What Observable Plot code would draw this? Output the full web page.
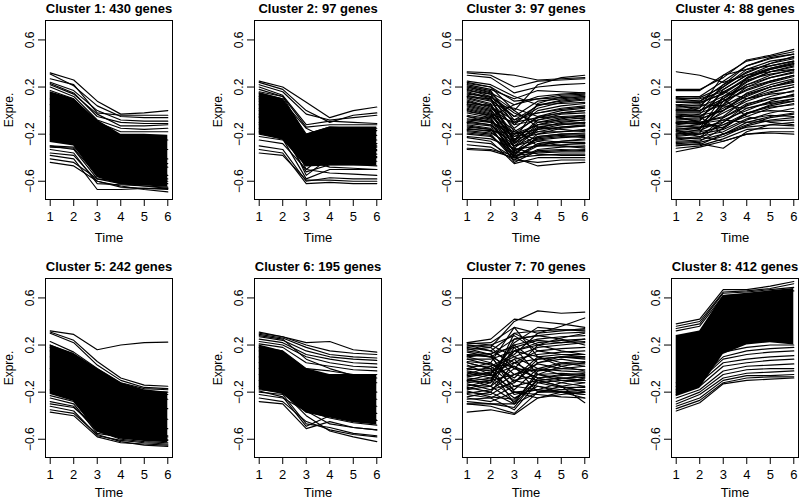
<!DOCTYPE html>
<html>
<head>
<meta charset="utf-8">
<script src="https://cdn.jsdelivr.net/npm/d3@7"></script>
<script src="https://cdn.jsdelivr.net/npm/@observablehq/plot@0.6"></script>
<style>
  body { margin: 0; background: #fff; }
  #chart { position: relative; width: 800px; height: 500px; background: #fff; overflow: hidden; }
  .panel { position: absolute; width: 200px; height: 250px; }
  .panel svg { max-width: none !important; }
</style>
</head>
<body>
<div id="chart"></div>
<script>
const titles = ["Cluster 1: 430 genes", "Cluster 2: 97 genes", "Cluster 3: 97 genes", "Cluster 4: 88 genes",
                "Cluster 5: 242 genes", "Cluster 6: 195 genes", "Cluster 7: 70 genes", "Cluster 8: 412 genes"];
const times = [1, 2, 3, 4, 5, 6];
const yTicks = [-0.6, -0.2, 0.2, 0.6];

// Cluster 1
const c1Lines = [
  [0.32, 0.26, 0.08, -0.03, -0.02, 0.0],
  [0.31, 0.21, 0.04, -0.05, -0.06, -0.06],
  [0.27, 0.22, -0.02, -0.04, -0.04, -0.04],
  [0.24, 0.17, 0.0, -0.08, -0.09, -0.09],
  [0.23, 0.15, -0.05, -0.1, -0.11, -0.11],
  [0.22, 0.14, -0.03, -0.13, -0.13, -0.12],
  [0.2, 0.12, -0.08, -0.15, -0.16, -0.15],
  [0.17, 0.1, -0.1, -0.18, -0.18, -0.18],
  [-0.3, -0.33, -0.58, -0.6, -0.61, -0.62],
  [-0.31, -0.32, -0.55, -0.58, -0.6, -0.6],
  [-0.33, -0.36, -0.62, -0.63, -0.64, -0.65],
  [-0.36, -0.38, -0.6, -0.64, -0.67, -0.69],
  [-0.38, -0.41, -0.67, -0.67, -0.66, -0.66],
  [-0.41, -0.44, -0.58, -0.62, -0.64, -0.66],
  [-0.44, -0.47, -0.6, -0.65, -0.66, -0.67],
  [-0.3, -0.31, -0.5, -0.55, -0.57, -0.58],
  [0.1, 0.05, -0.2, -0.3, -0.32, -0.33],
  [0.0, -0.05, -0.3, -0.38, -0.4, -0.41],
  [-0.1, -0.15, -0.4, -0.45, -0.47, -0.48],
  [-0.2, -0.24, -0.48, -0.52, -0.53, -0.55],
  [0.05, 0.0, -0.15, -0.22, -0.24, -0.25],
  [-0.05, -0.1, -0.35, -0.42, -0.44, -0.45]
];
const c1CoreHi = [0.16, 0.1, -0.08, -0.2, -0.2, -0.21];
const c1CoreLo = [-0.27, -0.3, -0.57, -0.63, -0.64, -0.65];

// Cluster 2
const c2Lines = [
  [0.25, 0.2, 0.07, -0.06, 0.0, 0.03],
  [0.24, 0.18, 0.0, -0.1, -0.04, -0.02],
  [0.22, 0.16, -0.03, -0.08, -0.06, -0.04],
  [0.2, 0.13, -0.12, -0.09, -0.1, -0.11],
  [0.18, 0.12, -0.14, -0.12, -0.12, -0.12],
  [0.15, 0.1, -0.2, -0.14, -0.15, -0.15],
  [0.12, 0.07, -0.25, -0.18, -0.18, -0.17],
  [0.08, 0.04, -0.3, -0.2, -0.21, -0.21],
  [0.05, 0.0, -0.35, -0.24, -0.24, -0.25],
  [0.02, -0.03, -0.4, -0.28, -0.28, -0.28],
  [0.0, -0.05, -0.45, -0.3, -0.31, -0.31],
  [-0.03, -0.08, -0.5, -0.34, -0.34, -0.34],
  [-0.06, -0.1, -0.28, -0.36, -0.36, -0.37],
  [-0.1, -0.14, -0.55, -0.4, -0.4, -0.4],
  [-0.12, -0.16, -0.38, -0.43, -0.43, -0.43],
  [-0.15, -0.2, -0.52, -0.46, -0.46, -0.47],
  [-0.18, -0.22, -0.42, -0.48, -0.49, -0.5],
  [-0.2, -0.24, -0.58, -0.5, -0.5, -0.5],
  [-0.25, -0.28, -0.5, -0.53, -0.54, -0.55],
  [-0.3, -0.33, -0.6, -0.57, -0.58, -0.58],
  [-0.33, -0.36, -0.62, -0.61, -0.62, -0.62],
  [-0.36, -0.38, -0.59, -0.59, -0.6, -0.6],
  [0.1, 0.08, -0.15, -0.25, -0.27, -0.28],
  [-0.05, -0.1, -0.33, -0.22, -0.3, -0.33],
  [0.16, 0.12, -0.22, -0.3, -0.3, -0.3],
  [-0.22, -0.25, -0.35, -0.38, -0.39, -0.39]
];
const c2CoreHi = [0.15, 0.1, -0.2, -0.14, -0.14, -0.14];
const c2CoreLo = [-0.2, -0.25, -0.48, -0.47, -0.47, -0.47];

// Cluster 3
const c3Lines = [
  [0.33, 0.32, 0.3, 0.26, 0.27, 0.28],
  [0.32, 0.3, 0.2, 0.25, 0.26, 0.27],
  [0.3, 0.28, 0.15, 0.2, 0.22, 0.23],
  [0.24, 0.2, 0.0, 0.22, 0.28, 0.3],
  [0.22, 0.18, 0.1, 0.17, 0.16, 0.15],
  [0.2, 0.15, 0.05, 0.1, 0.13, 0.14],
  [0.18, 0.12, -0.05, 0.08, 0.1, 0.12],
  [0.15, 0.1, -0.1, 0.02, 0.07, 0.09],
  [0.12, 0.08, -0.15, 0.0, 0.04, 0.06],
  [0.1, 0.05, -0.2, -0.05, 0.0, 0.02],
  [0.08, 0.02, -0.12, -0.08, -0.03, -0.02],
  [0.05, 0.0, -0.25, -0.1, -0.06, -0.05],
  [0.03, -0.02, -0.3, -0.15, -0.1, -0.08],
  [0.0, -0.05, -0.2, -0.12, -0.12, -0.1],
  [-0.02, -0.06, -0.35, -0.2, -0.15, -0.13],
  [-0.05, -0.08, -0.28, -0.18, -0.18, -0.17],
  [-0.08, -0.1, -0.38, -0.22, -0.2, -0.2],
  [-0.1, -0.12, -0.3, -0.25, -0.23, -0.22],
  [-0.12, -0.15, -0.4, -0.28, -0.26, -0.25],
  [-0.15, -0.18, -0.33, -0.3, -0.29, -0.28],
  [-0.18, -0.2, -0.42, -0.33, -0.31, -0.3],
  [-0.2, -0.22, -0.36, -0.35, -0.34, -0.33],
  [-0.23, -0.26, -0.45, -0.4, -0.4, -0.4],
  [-0.26, -0.28, -0.4, -0.47, -0.45, -0.44],
  [-0.29, -0.31, -0.42, -0.44, -0.42, -0.42],
  [-0.32, -0.33, -0.38, -0.36, -0.35, -0.35],
  [-0.33, -0.34, -0.4, -0.38, -0.37, -0.37],
  [0.25, 0.22, 0.12, 0.05, 0.06, 0.07],
  [0.05, 0.05, 0.02, -0.05, -0.02, 0.0],
  [-0.1, -0.05, 0.05, 0.12, 0.14, 0.15],
  [0.14, 0.12, -0.02, -0.1, -0.08, -0.06],
  [-0.05, -0.1, -0.18, -0.25, -0.27, -0.28],
  [0.2, 0.16, -0.08, -0.02, 0.02, 0.04],
  [0.17, 0.14, 0.0, -0.14, -0.11, -0.1],
  [0.07, 0.04, -0.22, -0.18, -0.14, -0.12],
  [-0.13, -0.16, -0.26, -0.08, -0.05, -0.04],
  [-0.17, -0.19, -0.3, -0.22, -0.2, -0.19],
  [0.01, -0.04, -0.16, -0.3, -0.3, -0.31],
  [0.21, 0.17, -0.12, 0.05, 0.08, 0.1],
  [0.19, 0.14, -0.18, -0.06, -0.02, 0.0],
  [0.16, 0.11, -0.28, -0.12, -0.07, -0.04],
  [0.13, 0.09, -0.05, -0.02, 0.01, 0.03],
  [0.11, 0.06, -0.32, -0.16, -0.14, -0.13],
  [0.09, 0.03, -0.08, 0.04, 0.09, 0.11],
  [0.06, 0.01, -0.24, -0.2, -0.18, -0.16],
  [0.04, -0.01, -0.36, -0.24, -0.22, -0.21],
  [0.02, -0.03, -0.1, -0.06, -0.05, -0.07],
  [-0.01, -0.04, -0.27, -0.14, -0.16, -0.18],
  [-0.04, -0.07, -0.4, -0.3, -0.26, -0.24],
  [-0.07, -0.09, -0.22, -0.12, -0.09, -0.08],
  [-0.09, -0.12, -0.34, -0.26, -0.3, -0.32],
  [-0.11, -0.13, -0.44, -0.34, -0.33, -0.34],
  [-0.14, -0.16, -0.37, -0.23, -0.21, -0.23],
  [-0.16, -0.17, -0.2, -0.16, -0.12, -0.11],
  [-0.19, -0.21, -0.39, -0.29, -0.27, -0.27],
  [-0.22, -0.24, -0.32, -0.37, -0.38, -0.38],
  [0.23, 0.2, 0.08, 0.1, 0.11, 0.12],
  [0.12, 0.1, -0.26, 0.06, 0.12, 0.13]
];

// Cluster 4
const c4Lines = [
  [0.33, 0.3, 0.24, 0.3, 0.33, 0.35],
  [0.18, 0.18, 0.28, 0.43, 0.47, 0.52],
  [0.17, 0.17, 0.3, 0.42, 0.46, 0.5],
  [0.12, 0.12, 0.25, 0.38, 0.45, 0.48],
  [0.1, 0.11, 0.2, 0.35, 0.42, 0.45],
  [0.08, 0.08, 0.18, 0.3, 0.38, 0.42],
  [0.05, 0.06, 0.15, 0.28, 0.36, 0.4],
  [0.02, 0.03, 0.12, 0.25, 0.33, 0.38],
  [0.0, 0.0, 0.1, 0.22, 0.3, 0.35],
  [-0.02, -0.02, 0.05, 0.2, 0.28, 0.32],
  [-0.05, -0.05, 0.08, 0.18, 0.25, 0.3],
  [-0.08, -0.07, 0.0, 0.15, 0.22, 0.27],
  [-0.1, -0.08, 0.02, 0.12, 0.2, 0.25],
  [-0.12, -0.1, -0.05, 0.1, 0.18, 0.22],
  [-0.14, -0.12, -0.02, 0.08, 0.15, 0.2],
  [-0.16, -0.14, -0.1, 0.05, 0.12, 0.17],
  [-0.18, -0.17, -0.08, 0.0, 0.08, 0.14],
  [-0.2, -0.18, -0.14, -0.03, 0.05, 0.1],
  [-0.22, -0.2, -0.12, -0.05, 0.02, 0.06],
  [-0.24, -0.22, -0.18, -0.08, -0.02, 0.02],
  [-0.26, -0.25, -0.2, -0.1, -0.05, -0.02],
  [-0.28, -0.27, -0.22, -0.13, -0.08, -0.06],
  [-0.3, -0.28, -0.32, -0.18, -0.12, -0.1],
  [-0.32, -0.3, -0.24, -0.16, -0.15, -0.15],
  [-0.35, -0.31, -0.26, -0.2, -0.19, -0.2],
  [-0.18, -0.22, -0.26, -0.2, -0.18, -0.18],
  [0.05, 0.0, 0.1, -0.05, -0.1, -0.12],
  [-0.05, -0.1, -0.15, -0.02, 0.0, -0.01],
  [0.1, 0.08, 0.22, 0.32, 0.4, 0.44],
  [-0.1, -0.12, 0.05, 0.28, 0.35, 0.4],
  [0.0, 0.02, 0.3, 0.35, 0.38, 0.42],
  [-0.15, -0.15, 0.12, 0.2, 0.25, 0.3],
  [-0.06, -0.03, 0.16, 0.26, 0.31, 0.34],
  [-0.2, -0.16, 0.04, 0.14, 0.2, 0.24],
  [-0.25, -0.23, -0.06, 0.06, 0.1, 0.12],
  [0.03, 0.05, 0.04, 0.02, 0.06, 0.08],
  [0.07, 0.07, 0.14, 0.27, 0.35, 0.39],
  [0.04, 0.04, 0.2, 0.33, 0.4, 0.46],
  [0.01, 0.0, 0.08, 0.17, 0.24, 0.29],
  [-0.03, -0.04, 0.0, 0.1, 0.16, 0.2],
  [-0.07, -0.06, 0.1, 0.24, 0.33, 0.37],
  [-0.09, -0.1, -0.06, 0.04, 0.1, 0.13],
  [-0.11, -0.09, 0.18, 0.3, 0.36, 0.41],
  [-0.13, -0.14, -0.12, -0.02, 0.04, 0.08],
  [-0.17, -0.15, 0.0, 0.13, 0.2, 0.26],
  [-0.19, -0.2, -0.16, -0.07, -0.04, -0.05],
  [-0.21, -0.19, 0.08, 0.22, 0.28, 0.33],
  [-0.23, -0.24, -0.1, 0.02, 0.07, 0.1],
  [-0.27, -0.26, -0.15, -0.02, 0.03, 0.05],
  [-0.29, -0.29, -0.2, -0.14, -0.12, -0.13],
  [-0.11, -0.11, -0.08, -0.1, -0.09, -0.08],
  [0.11, 0.1, 0.16, 0.1, 0.14, 0.16],
  [-0.01, -0.01, 0.22, 0.38, 0.44, 0.48],
  [-0.04, -0.05, -0.2, -0.12, -0.06, -0.03]
];

// Cluster 5
const c5Lines = [
  [0.32, 0.29, 0.16, 0.2, 0.22, 0.225],
  [0.31, 0.24, 0.06, -0.08, -0.14, -0.15],
  [0.3, 0.22, 0.03, -0.1, -0.16, -0.17],
  [0.23, 0.14, 0.0, -0.12, -0.17, -0.18],
  [0.2, 0.12, -0.02, -0.15, -0.19, -0.2],
  [0.18, 0.1, -0.05, -0.18, -0.21, -0.22],
  [-0.23, -0.28, -0.52, -0.55, -0.57, -0.58],
  [-0.25, -0.3, -0.55, -0.58, -0.6, -0.61],
  [-0.3, -0.33, -0.5, -0.56, -0.59, -0.6],
  [-0.32, -0.36, -0.57, -0.61, -0.63, -0.64],
  [-0.35, -0.38, -0.56, -0.62, -0.65, -0.66],
  [-0.37, -0.4, -0.58, -0.63, -0.64, -0.65],
  [-0.28, -0.32, -0.53, -0.6, -0.62, -0.63],
  [0.1, 0.05, -0.2, -0.3, -0.33, -0.34],
  [0.0, -0.05, -0.3, -0.4, -0.42, -0.43],
  [-0.1, -0.15, -0.4, -0.48, -0.5, -0.51],
  [-0.18, -0.22, -0.48, -0.54, -0.56, -0.57],
  [0.15, 0.1, -0.1, -0.22, -0.25, -0.26]
];
const c5CoreHi = [0.2, 0.13, 0.0, -0.12, -0.18, -0.2];
const c5CoreLo = [-0.22, -0.28, -0.54, -0.6, -0.62, -0.63];

// Cluster 6
const c6Lines = [
  [0.3, 0.27, 0.22, 0.23, 0.16, 0.14],
  [0.31, 0.27, 0.2, 0.15, 0.13, 0.12],
  [0.29, 0.26, 0.18, 0.12, 0.1, 0.09],
  [0.27, 0.24, 0.15, 0.1, 0.08, 0.07],
  [0.25, 0.22, 0.12, 0.08, 0.05, 0.04],
  [0.23, 0.2, 0.1, 0.05, 0.02, 0.01],
  [0.21, 0.18, 0.05, 0.02, -0.01, -0.02],
  [0.18, 0.15, 0.0, -0.02, -0.05, -0.05],
  [0.28, 0.25, 0.08, 0.0, -0.06, -0.08],
  [0.15, 0.12, -0.05, -0.08, -0.1, -0.12],
  [0.1, 0.06, -0.1, -0.15, -0.18, -0.2],
  [0.05, 0.0, -0.15, -0.2, -0.24, -0.26],
  [0.0, -0.04, -0.22, -0.26, -0.3, -0.32],
  [-0.05, -0.1, -0.28, -0.32, -0.36, -0.38],
  [-0.1, -0.14, -0.32, -0.38, -0.42, -0.44],
  [-0.15, -0.18, -0.36, -0.42, -0.46, -0.48],
  [-0.28, -0.3, -0.51, -0.45, -0.5, -0.52],
  [-0.25, -0.28, -0.45, -0.52, -0.56, -0.58],
  [-0.2, -0.22, -0.47, -0.5, -0.55, -0.57],
  [-0.18, -0.2, -0.4, -0.53, -0.58, -0.62],
  [-0.22, -0.25, -0.36, -0.47, -0.5, -0.52],
  [-0.19, -0.24, -0.49, -0.4, -0.42, -0.44]
];
const c6CoreHi = [0.2, 0.15, 0.0, -0.05, -0.05, -0.05];
const c6CoreLo = [-0.18, -0.22, -0.38, -0.42, -0.46, -0.48];

// Cluster 7
const c7Lines = [
  [0.22, 0.25, 0.42, 0.4, 0.38, 0.35],
  [0.2, 0.18, 0.4, 0.49, 0.47, 0.48],
  [0.21, 0.22, 0.35, 0.3, 0.36, 0.43],
  [0.18, 0.15, 0.3, 0.32, 0.33, 0.33],
  [0.15, 0.12, 0.25, 0.28, 0.3, 0.31],
  [0.22, 0.2, 0.1, 0.0, -0.05, -0.08],
  [0.2, 0.15, 0.05, -0.05, -0.1, -0.12],
  [0.17, 0.12, -0.05, -0.1, -0.15, -0.2],
  [0.12, 0.1, 0.2, 0.25, 0.27, 0.28],
  [0.1, 0.05, -0.1, -0.15, -0.2, -0.25],
  [0.08, 0.08, 0.15, 0.22, 0.24, 0.25],
  [0.05, 0.0, 0.1, 0.18, 0.2, 0.22],
  [0.02, 0.02, -0.15, -0.1, -0.15, -0.29],
  [0.0, -0.02, 0.08, 0.12, 0.14, 0.15],
  [-0.02, -0.05, 0.2, 0.05, 0.1, 0.1],
  [-0.04, -0.08, -0.2, -0.18, -0.2, -0.2],
  [-0.05, 0.02, 0.12, 0.3, 0.32, 0.34],
  [-0.06, -0.03, 0.05, 0.08, 0.1, 0.08],
  [-0.08, -0.1, -0.05, 0.0, 0.05, 0.06],
  [-0.1, -0.12, 0.3, 0.2, 0.22, 0.23],
  [-0.12, -0.1, -0.25, -0.15, -0.18, -0.18],
  [-0.14, -0.15, 0.0, -0.02, 0.0, 0.02],
  [-0.16, -0.2, -0.3, -0.2, -0.2, -0.22],
  [-0.18, -0.15, 0.15, 0.1, 0.05, 0.02],
  [-0.2, -0.22, -0.1, -0.05, -0.04, -0.05],
  [-0.22, -0.25, -0.35, -0.12, -0.1, -0.1],
  [-0.24, -0.2, 0.05, 0.15, 0.17, 0.18],
  [-0.25, -0.28, -0.2, -0.22, -0.24, -0.25],
  [-0.3, -0.32, -0.38, -0.2, -0.15, -0.12],
  [-0.37, -0.35, -0.39, -0.25, -0.2, -0.18],
  [-0.3, -0.3, -0.33, -0.08, -0.05, -0.06],
  [0.0, 0.05, 0.35, 0.1, 0.02, -0.02],
  [-0.1, -0.05, -0.18, 0.0, -0.02, -0.03],
  [0.12, 0.1, 0.0, -0.08, -0.12, -0.15],
  [0.05, 0.0, -0.3, -0.1, -0.08, -0.1],
  [-0.15, -0.1, 0.25, 0.28, 0.25, 0.2],
  [0.1, 0.12, -0.2, -0.25, -0.22, -0.2],
  [0.19, 0.2, 0.28, 0.15, 0.12, 0.1],
  [0.16, 0.18, 0.0, 0.2, 0.26, 0.3],
  [0.14, 0.1, -0.12, 0.05, 0.08, 0.05],
  [0.11, 0.13, 0.18, -0.05, -0.08, -0.1],
  [0.06, 0.04, -0.08, 0.1, 0.12, 0.12],
  [0.03, -0.05, 0.22, 0.35, 0.33, 0.32],
  [-0.01, 0.0, -0.22, -0.18, -0.12, -0.08],
  [-0.03, -0.06, 0.02, -0.08, -0.06, -0.04],
  [-0.07, -0.04, 0.15, 0.2, 0.15, 0.12],
  [-0.09, -0.15, -0.28, -0.05, 0.02, 0.05],
  [-0.11, -0.08, 0.08, -0.12, -0.16, -0.16],
  [-0.13, -0.18, -0.12, 0.08, 0.1, 0.09],
  [-0.17, -0.12, 0.18, 0.24, 0.22, 0.25],
  [-0.19, -0.24, -0.26, -0.1, -0.08, -0.07],
  [-0.21, -0.18, -0.05, 0.04, 0.0, -0.01],
  [-0.26, -0.25, -0.15, -0.18, -0.2, -0.22],
  [-0.28, -0.3, -0.3, -0.02, 0.04, 0.04],
  [0.08, 0.03, 0.02, -0.2, -0.18, -0.15]
];

// Cluster 8
const c8Lines = [
  [0.38, 0.42, 0.67, 0.67, 0.7, 0.74],
  [0.36, 0.4, 0.65, 0.66, 0.68, 0.72],
  [0.34, 0.38, 0.64, 0.65, 0.67, 0.69],
  [0.32, 0.36, 0.62, 0.63, 0.65, 0.66],
  [-0.36, -0.29, -0.13, -0.1, -0.09, -0.08],
  [-0.34, -0.27, -0.12, -0.08, -0.07, -0.07],
  [-0.32, -0.25, -0.1, -0.06, -0.06, -0.05],
  [-0.3, -0.22, -0.08, -0.04, -0.03, -0.02],
  [-0.28, -0.2, -0.05, -0.01, 0.0, 0.0],
  [-0.25, -0.18, -0.02, 0.02, 0.03, 0.04],
  [-0.22, -0.15, 0.02, 0.05, 0.07, 0.08],
  [-0.2, -0.12, 0.05, 0.08, 0.1, 0.11],
  [-0.18, -0.1, 0.08, 0.12, 0.14, 0.15],
  [-0.15, -0.08, 0.1, 0.15, 0.17, 0.18],
  [-0.12, -0.05, 0.14, 0.18, 0.2, 0.2]
];
const c8CoreHi = [0.28, 0.32, 0.62, 0.64, 0.66, 0.68];
const c8CoreLo = [-0.24, -0.17, 0.12, 0.2, 0.22, 0.2];

const panels = [
  {lines: c1Lines, hi: c1CoreHi, lo: c1CoreLo},
  {lines: c2Lines, hi: c2CoreHi, lo: c2CoreLo},
  {lines: c3Lines},
  {lines: c4Lines},
  {lines: c5Lines, hi: c5CoreHi, lo: c5CoreLo},
  {lines: c6Lines, hi: c6CoreHi, lo: c6CoreLo},
  {lines: c7Lines},
  {lines: c8Lines, hi: c8CoreHi, lo: c8CoreLo}
];

const FONT = "'Liberation Sans', Arial, Helvetica, sans-serif";
const chart = document.getElementById("chart");

panels.forEach((p, i) => {
  const col = i % 4, row = Math.floor(i / 4);
  const lineData = p.lines.flatMap((vals, id) => vals.map((v, k) => ({id, t: times[k], v})));
  const core = p.hi ? times.map((t, k) => ({t, hi: p.hi[k], lo: p.lo[k]})) : [];
  const svg = Plot.plot({
    width: 200, height: 250,
    marginLeft: 45, marginRight: 28, marginTop: 20, marginBottom: 51,
    style: {fontFamily: FONT, fontSize: "13px", background: "transparent", overflow: "visible", maxWidth: "none"},
    x: {domain: [0.8, 6.2]},
    y: {domain: [-0.755, 0.765]},
    marks: [
      Plot.areaY(core, {x: "t", y1: "lo", y2: "hi", fill: "black"}),
      Plot.line(lineData, {x: "t", y: "v", z: "id", stroke: "black", strokeWidth: 1.15}),
      Plot.frame({stroke: "black", strokeWidth: 1}),
      Plot.axisX(times, {tickSize: 7, tickPadding: 5, fontSize: 13, label: null, stroke: "black", tickFormat: d => String(d)}),
      Plot.axisY(yTicks, {tickSize: 7, tickPadding: 5, tickRotate: -90, fontSize: 12, label: null, stroke: "black", tickFormat: d => d.toFixed(1).replace("-", "\u2212")}),
      Plot.text(["Time"], {frameAnchor: "bottom", dy: row === 0 ? 38 : 35, lineAnchor: "middle", fontSize: 13}),
      Plot.text(["Expre."], {frameAnchor: "left", dx: -36, rotate: -90, lineAnchor: "middle", textAnchor: "middle", fontSize: 12}),
      Plot.text([titles[i]], {frameAnchor: "top", dy: -8, lineAnchor: "bottom", fontSize: 13, fontWeight: "bold"})
    ]
  });
  const div = document.createElement("div");
  div.className = "panel";
  div.style.left = (col * 208.7) + "px";
  div.style.top = (row * 258) + "px";
  div.appendChild(svg);
  chart.appendChild(div);
});
</script>
</body>
</html>
